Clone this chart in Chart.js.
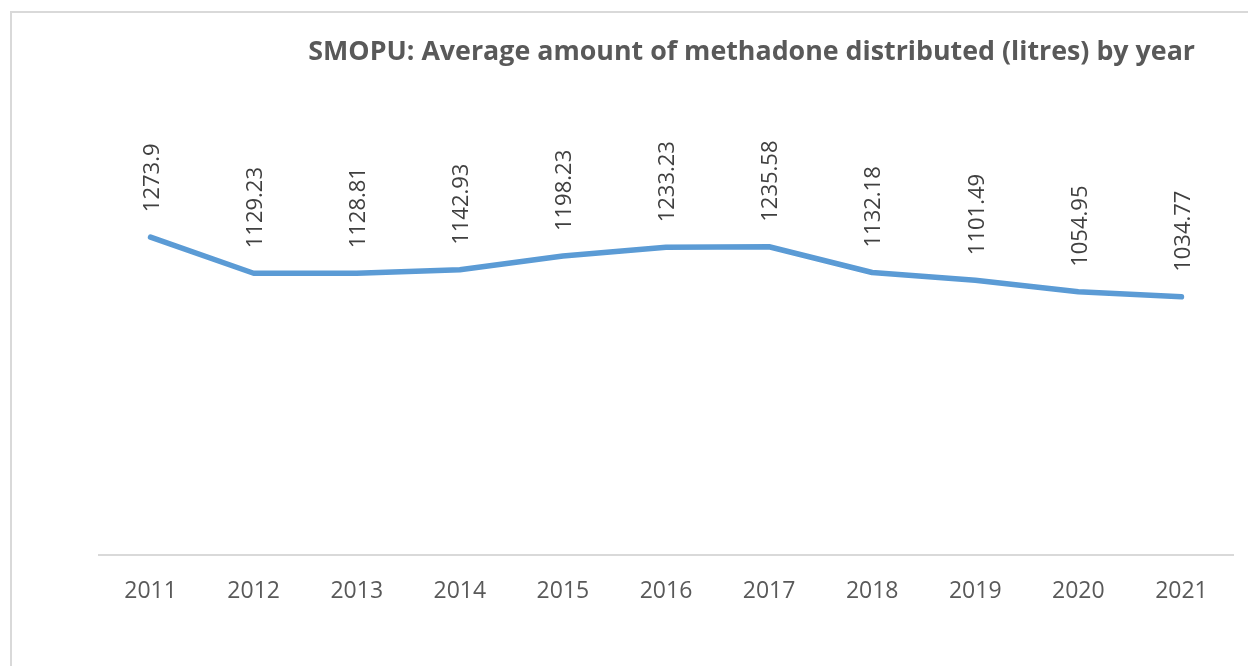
<!DOCTYPE html>
<html>
<head>
<meta charset="utf-8">
<title>SMOPU methadone distributed</title>
<script src="https://cdn.jsdelivr.net/npm/chart.js@4.4.1/dist/chart.umd.min.js"></script>
<style>
  html, body { margin: 0; padding: 0; background: #ffffff; }
  #wrap { width: 1248px; height: 666px; position: relative; }
</style>
</head>
<body>
<div id="wrap"><canvas id="chart" width="1248" height="666"></canvas></div>
<script>
// Yearly averages (litres)
const years = ['2011', '2012', '2013', '2014', '2015', '2016', '2017', '2018', '2019', '2020', '2021'];
const avgLitres = [1273.9, 1129.23, 1128.81, 1142.93, 1198.23, 1233.23, 1235.58, 1132.18, 1101.49, 1054.95, 1034.77];
const chartTitle = 'SMOPU: Average amount of methadone distributed (litres) by year';

// Frame, title and rotated value labels drawn on the canvas
const decorations = {
  id: 'decorations',
  beforeDraw(chart) {
    const ctx = chart.ctx;
    ctx.save();
    ctx.fillStyle = '#ffffff';
    ctx.fillRect(0, 0, chart.width, chart.height);
    ctx.strokeStyle = '#d9d9d9';
    ctx.lineWidth = 2;
    ctx.beginPath();
    ctx.moveTo(11, chart.height);
    ctx.lineTo(11, 12);
    ctx.lineTo(chart.width, 12);
    ctx.stroke();
    ctx.restore();
  },
  afterDatasetsDraw(chart) {
    const ctx = chart.ctx;
    ctx.save();
    ctx.font = 'bold 26.8px "Open Sans"';
    ctx.fillStyle = '#595959';
    ctx.textAlign = 'right';
    ctx.textBaseline = 'middle';
    ctx.fillText(chartTitle, 1195, 52);

    const meta = chart.getDatasetMeta(0);
    ctx.font = '22px "Open Sans"';
    ctx.fillStyle = '#404040';
    ctx.textAlign = 'left';
    ctx.textBaseline = 'middle';
    meta.data.forEach((pt, i) => {
      const v = chart.data.datasets[0].data[i];
      ctx.save();
      ctx.translate(pt.x + 2, pt.y - 25);
      ctx.rotate(-Math.PI / 2);
      ctx.fillText(String(v), 0, 0);
      ctx.restore();
    });
    ctx.restore();
  }
};

new Chart(document.getElementById('chart'), {
  type: 'line',
  data: {
    labels: years,
    datasets: [{
      data: avgLitres,
      borderColor: '#5b9bd5',
      borderWidth: 5.5,
      borderCapStyle: 'round',
      borderJoinStyle: 'round',
      pointRadius: 0,
      pointHoverRadius: 0,
      tension: 0,
      fill: false
    }]
  },
  options: {
    responsive: false,
    animation: false,
    events: [],
    layout: { padding: { left: 99, right: 15, top: 56, bottom: 0 } },
    plugins: {
      legend: { display: false },
      title: { display: false },
      tooltip: { enabled: false }
    },
    scales: {
      x: {
        offset: true,
        grid: { display: false, drawTicks: false },
        border: { display: true, color: '#d9d9d9', width: 2 },
        ticks: {
          color: '#595959',
          font: { family: 'Open Sans', size: 23 },
          padding: 23,
          maxRotation: 0,
          autoSkip: false
        },
        afterFit(scale) { scale.height = 111; }
      },
      y: {
        display: false,
        min: 0,
        max: 2000
      }
    }
  },
  plugins: [decorations]
});
</script>
</body>
</html>
